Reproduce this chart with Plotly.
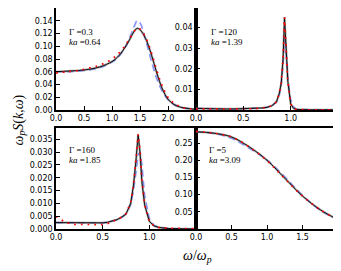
import plotly.graph_objects as go

# ---------------- data ----------------
# Panel A: Gamma=0.3, ka=0.64
xa = [0, 0.2, 0.4, 0.6, 0.8, 1.0, 1.1, 1.2, 1.3, 1.4, 1.45, 1.5, 1.6, 1.7, 1.8, 1.9, 2.0, 2.1, 2.2, 2.3, 2.4, 2.5]
ya_black = [0.060, 0.061, 0.062, 0.064, 0.068, 0.076, 0.083, 0.094, 0.108, 0.124, 0.128, 0.126, 0.112, 0.088, 0.058, 0.033, 0.017, 0.009, 0.005, 0.003, 0.002, 0.001]
ya_blue = [0.060, 0.060, 0.061, 0.063, 0.067, 0.075, 0.082, 0.093, 0.110, 0.132, 0.140, 0.137, 0.110, 0.078, 0.049, 0.029, 0.016, 0.009, 0.005, 0.003, 0.002, 0.001]
ya_red = [0.058, 0.060, 0.062, 0.066, 0.071, 0.080, 0.087, 0.097, 0.110, 0.124, 0.128, 0.127, 0.114, 0.091, 0.062, 0.037, 0.020, 0.011, 0.006, 0.003, 0.002, 0.001]

# Panel B: Gamma=120, ka=1.39
xb = [0, 0.1, 0.2, 0.3, 0.4, 0.5, 0.6, 0.7, 0.75, 0.8, 0.85, 0.88, 0.9, 0.92, 0.935, 0.95, 0.97, 1.0, 1.03, 1.06, 1.1, 1.2, 1.3, 1.4, 1.5]
yb_black = [0.0008, 0.0006, 0.0005, 0.0005, 0.0005, 0.0006, 0.0007, 0.0010, 0.0013, 0.0020, 0.0040, 0.0080, 0.0130, 0.0250, 0.0450, 0.0320, 0.0140, 0.0030, 0.0008, 0.0003, 0.0002, 0.0001, 0.0001, 0.0001, 0.0001]
yb_blue = [0.0008, 0.0006, 0.0005, 0.0005, 0.0005, 0.0006, 0.0007, 0.0010, 0.0013, 0.0020, 0.0038, 0.0075, 0.0120, 0.0220, 0.0360, 0.0300, 0.0150, 0.0050, 0.0015, 0.0004, 0.0002, 0.0001, 0.0001, 0.0001, 0.0001]
yb_red = [0.0005, 0.0005, 0.0004, 0.0004, 0.0004, 0.0005, 0.0006, 0.0009, 0.0013, 0.0020, 0.0040, 0.0080, 0.0130, 0.0250, 0.0450, 0.0320, 0.0140, 0.0030, 0.0008, 0.0003, 0.0002, 0.0001, 0.0001, 0.0001, 0.0001]

# Panel C: Gamma=160, ka=1.85
xc = [0, 0.05, 0.1, 0.2, 0.3, 0.4, 0.5, 0.55, 0.6, 0.65, 0.7, 0.75, 0.8, 0.83, 0.86, 0.88, 0.9, 0.92, 0.95, 1.0, 1.05, 1.1, 1.2, 1.3, 1.4, 1.5]
yc_black = [0.0025, 0.0025, 0.0024, 0.0023, 0.0023, 0.0023, 0.0024, 0.0026, 0.0030, 0.0036, 0.0045, 0.0058, 0.0100, 0.0170, 0.0280, 0.0367, 0.0300, 0.0185, 0.0094, 0.0030, 0.0012, 0.0006, 0.0002, 0.0001, 0.0000, 0.0000]
yc_blue = [0.0025, 0.0025, 0.0024, 0.0023, 0.0023, 0.0023, 0.0024, 0.0026, 0.0030, 0.0036, 0.0045, 0.0058, 0.0095, 0.0150, 0.0230, 0.0290, 0.0300, 0.0250, 0.0130, 0.0040, 0.0015, 0.0007, 0.0002, 0.0001, 0.0000, 0.0000]
yc_red = [0.0049, 0.0038, 0.0026, 0.0018, 0.0017, 0.0017, 0.0017, 0.0020, 0.0030, 0.0037, 0.0046, 0.0060, 0.0102, 0.0172, 0.0285, 0.0370, 0.0310, 0.0190, 0.0095, 0.0030, 0.0012, 0.0006, 0.0003, 0.0002, 0.0001, 0.0001]

# Panel D: Gamma=5, ka=3.09
xd = [0, 0.25, 0.5, 0.75, 1.0, 1.25, 1.5, 1.75, 2.0]
yd_black = [0.283, 0.279, 0.268, 0.239, 0.200, 0.148, 0.096, 0.056, 0.027]
yd_blue = [0.283, 0.278, 0.264, 0.235, 0.201, 0.152, 0.098, 0.055, 0.027]
yd_red = [0.284, 0.279, 0.268, 0.239, 0.199, 0.147, 0.096, 0.056, 0.027]

labels_gamma = ["Γ =0.3", "Γ =120", "Γ =160", "Γ =5"]
labels_ka = ["0.64", "1.39", "1.85", "3.09"]

# ---------------- figure ----------------
OFF = 8  # page body margin
W, H = 341 - OFF, 271 - OFF
fig = go.Figure()

def px_x(p):
    return min(1.0, max(0.0, (p - OFF) / W))

def px_y(p):
    return min(1.0, max(0.0, 1 - (p - OFF) / H))

xl = [px_x(56), px_x(196)]
xr = [px_x(196), px_x(338)]
yt = [px_y(110), px_y(8)]
yb = [px_y(229), px_y(128)]

panels = [
    dict(n="", x=xa, ys=(ya_black, ya_blue, ya_red), xd=xl, yd=yt, xr=[0, 2.5], yr=[0, 0.16],
         xt=[0, 0.5, 1.0, 1.5, 2.0], xf=".1f", yt=[0, 0.02, 0.04, 0.06, 0.08, 0.10, 0.12, 0.14], yf=".2f", shape="spline"),
    dict(n="2", x=xb, ys=(yb_black, yb_blue, yb_red), xd=xr, yd=yt, xr=[0, 1.5], yr=[0, 0.0495],
         xt=[0, 0.5, 1.0], xf=".1f", yt=[0.01, 0.02, 0.03, 0.04], yf=".2f", shape="linear"),
    dict(n="3", x=xc, ys=(yc_black, yc_blue, yc_red), xd=xl, yd=yb, xr=[0, 1.5], yr=[0, 0.0394],
         xt=[0, 0.5, 1.0], xf=".1f", yt=[0, 0.005, 0.01, 0.015, 0.02, 0.025, 0.03, 0.035], yf=".3f", shape="linear"),
    dict(n="4", x=xd, ys=(yd_black, yd_blue, yd_red), xd=xr, yd=yb, xr=[0, 2.0], yr=[0, 0.294],
         xt=[0, 0.5, 1.0, 1.5], xf=".1f", yt=[0.05, 0.10, 0.15, 0.20, 0.25], yf=".2f", shape="spline"),
]

tickfont = dict(family="DejaVu Sans", size=8, color="black")
for i, p in enumerate(panels):
    xa_name = "x" + p["n"]
    ya_name = "y" + p["n"]
    yb_, yblue, yred = p["ys"]
    fig.add_trace(go.Scatter(x=p["x"], y=yblue, mode="lines", xaxis=xa_name, yaxis=ya_name,
                             line=dict(color="rgba(70,90,245,0.65)", width=1.6, dash="7px,4px", shape=p["shape"]),
                             showlegend=False))
    fig.add_trace(go.Scatter(x=p["x"], y=yb_, mode="lines", xaxis=xa_name, yaxis=ya_name,
                             line=dict(color="rgba(120,120,120,0.6)", width=2.2, shape=p["shape"]),
                             showlegend=False))
    fig.add_trace(go.Scatter(x=p["x"], y=yb_, mode="lines", xaxis=xa_name, yaxis=ya_name,
                             line=dict(color="black", width=0.9, shape=p["shape"]),
                             showlegend=False))
    fig.add_trace(go.Scatter(x=p["x"], y=yred, mode="lines", xaxis=xa_name, yaxis=ya_name,
                             line=dict(color="red", width=1.7, dash="1.7px,5px", shape=p["shape"]),
                             showlegend=False))
    axcommon = dict(showline=True, mirror=True, linecolor="black", linewidth=1.6, ticks="inside",
                    ticklen=4, tickwidth=1, tickcolor="black", showgrid=False, zeroline=False,
                    tickfont=tickfont, automargin=False)
    fig.layout["xaxis" + p["n"]] = dict(domain=p["xd"], range=p["xr"], anchor=ya_name, tickvals=p["xt"],
                                        tickformat=p["xf"], **axcommon)
    fig.layout["yaxis" + p["n"]] = dict(domain=p["yd"], range=p["yr"], anchor=xa_name, tickvals=p["yt"],
                                        tickformat=p["yf"], **axcommon)

# panel labels
label_pos = [(67, 32), (209, 32), (67, 150), (207, 150)]
serif = dict(family="Liberation Serif", size=9, color="black")
for (px, py), g, k in zip(label_pos, labels_gamma, labels_ka):
    fig.add_annotation(x=px_x(px), y=px_y(py), xref="paper", yref="paper", text=g,
                       showarrow=False, xanchor="left", yanchor="middle", font=serif)
    fig.add_annotation(x=px_x(px), y=px_y(py + 10), xref="paper", yref="paper", text="<i>ka</i> =" + k,
                       showarrow=False, xanchor="left", yanchor="middle", font=serif)

# axis titles
fig.add_annotation(x=px_x(197), y=px_y(256), xref="paper", yref="paper",
                   text="<i>ω</i>/<i>ω</i><sub><i>p</i></sub>", showarrow=False,
                   xanchor="center", yanchor="middle",
                   font=dict(family="Liberation Serif", size=14, color="black"))
fig.add_annotation(x=0, y=px_y(120), xref="paper", yref="paper",
                   text="<i>ω</i><sub><i>p</i></sub><i>S</i>(<i>k</i>,<i>ω</i>)", showarrow=False,
                   textangle=-90, xanchor="left", yanchor="middle",
                   font=dict(family="Liberation Serif", size=14, color="black"))

fig.update_layout(width=W, height=H, margin=dict(l=0, r=0, t=0, b=0),
                  paper_bgcolor="white", plot_bgcolor="rgba(0,0,0,0)")

fig.write_html("out.html")
